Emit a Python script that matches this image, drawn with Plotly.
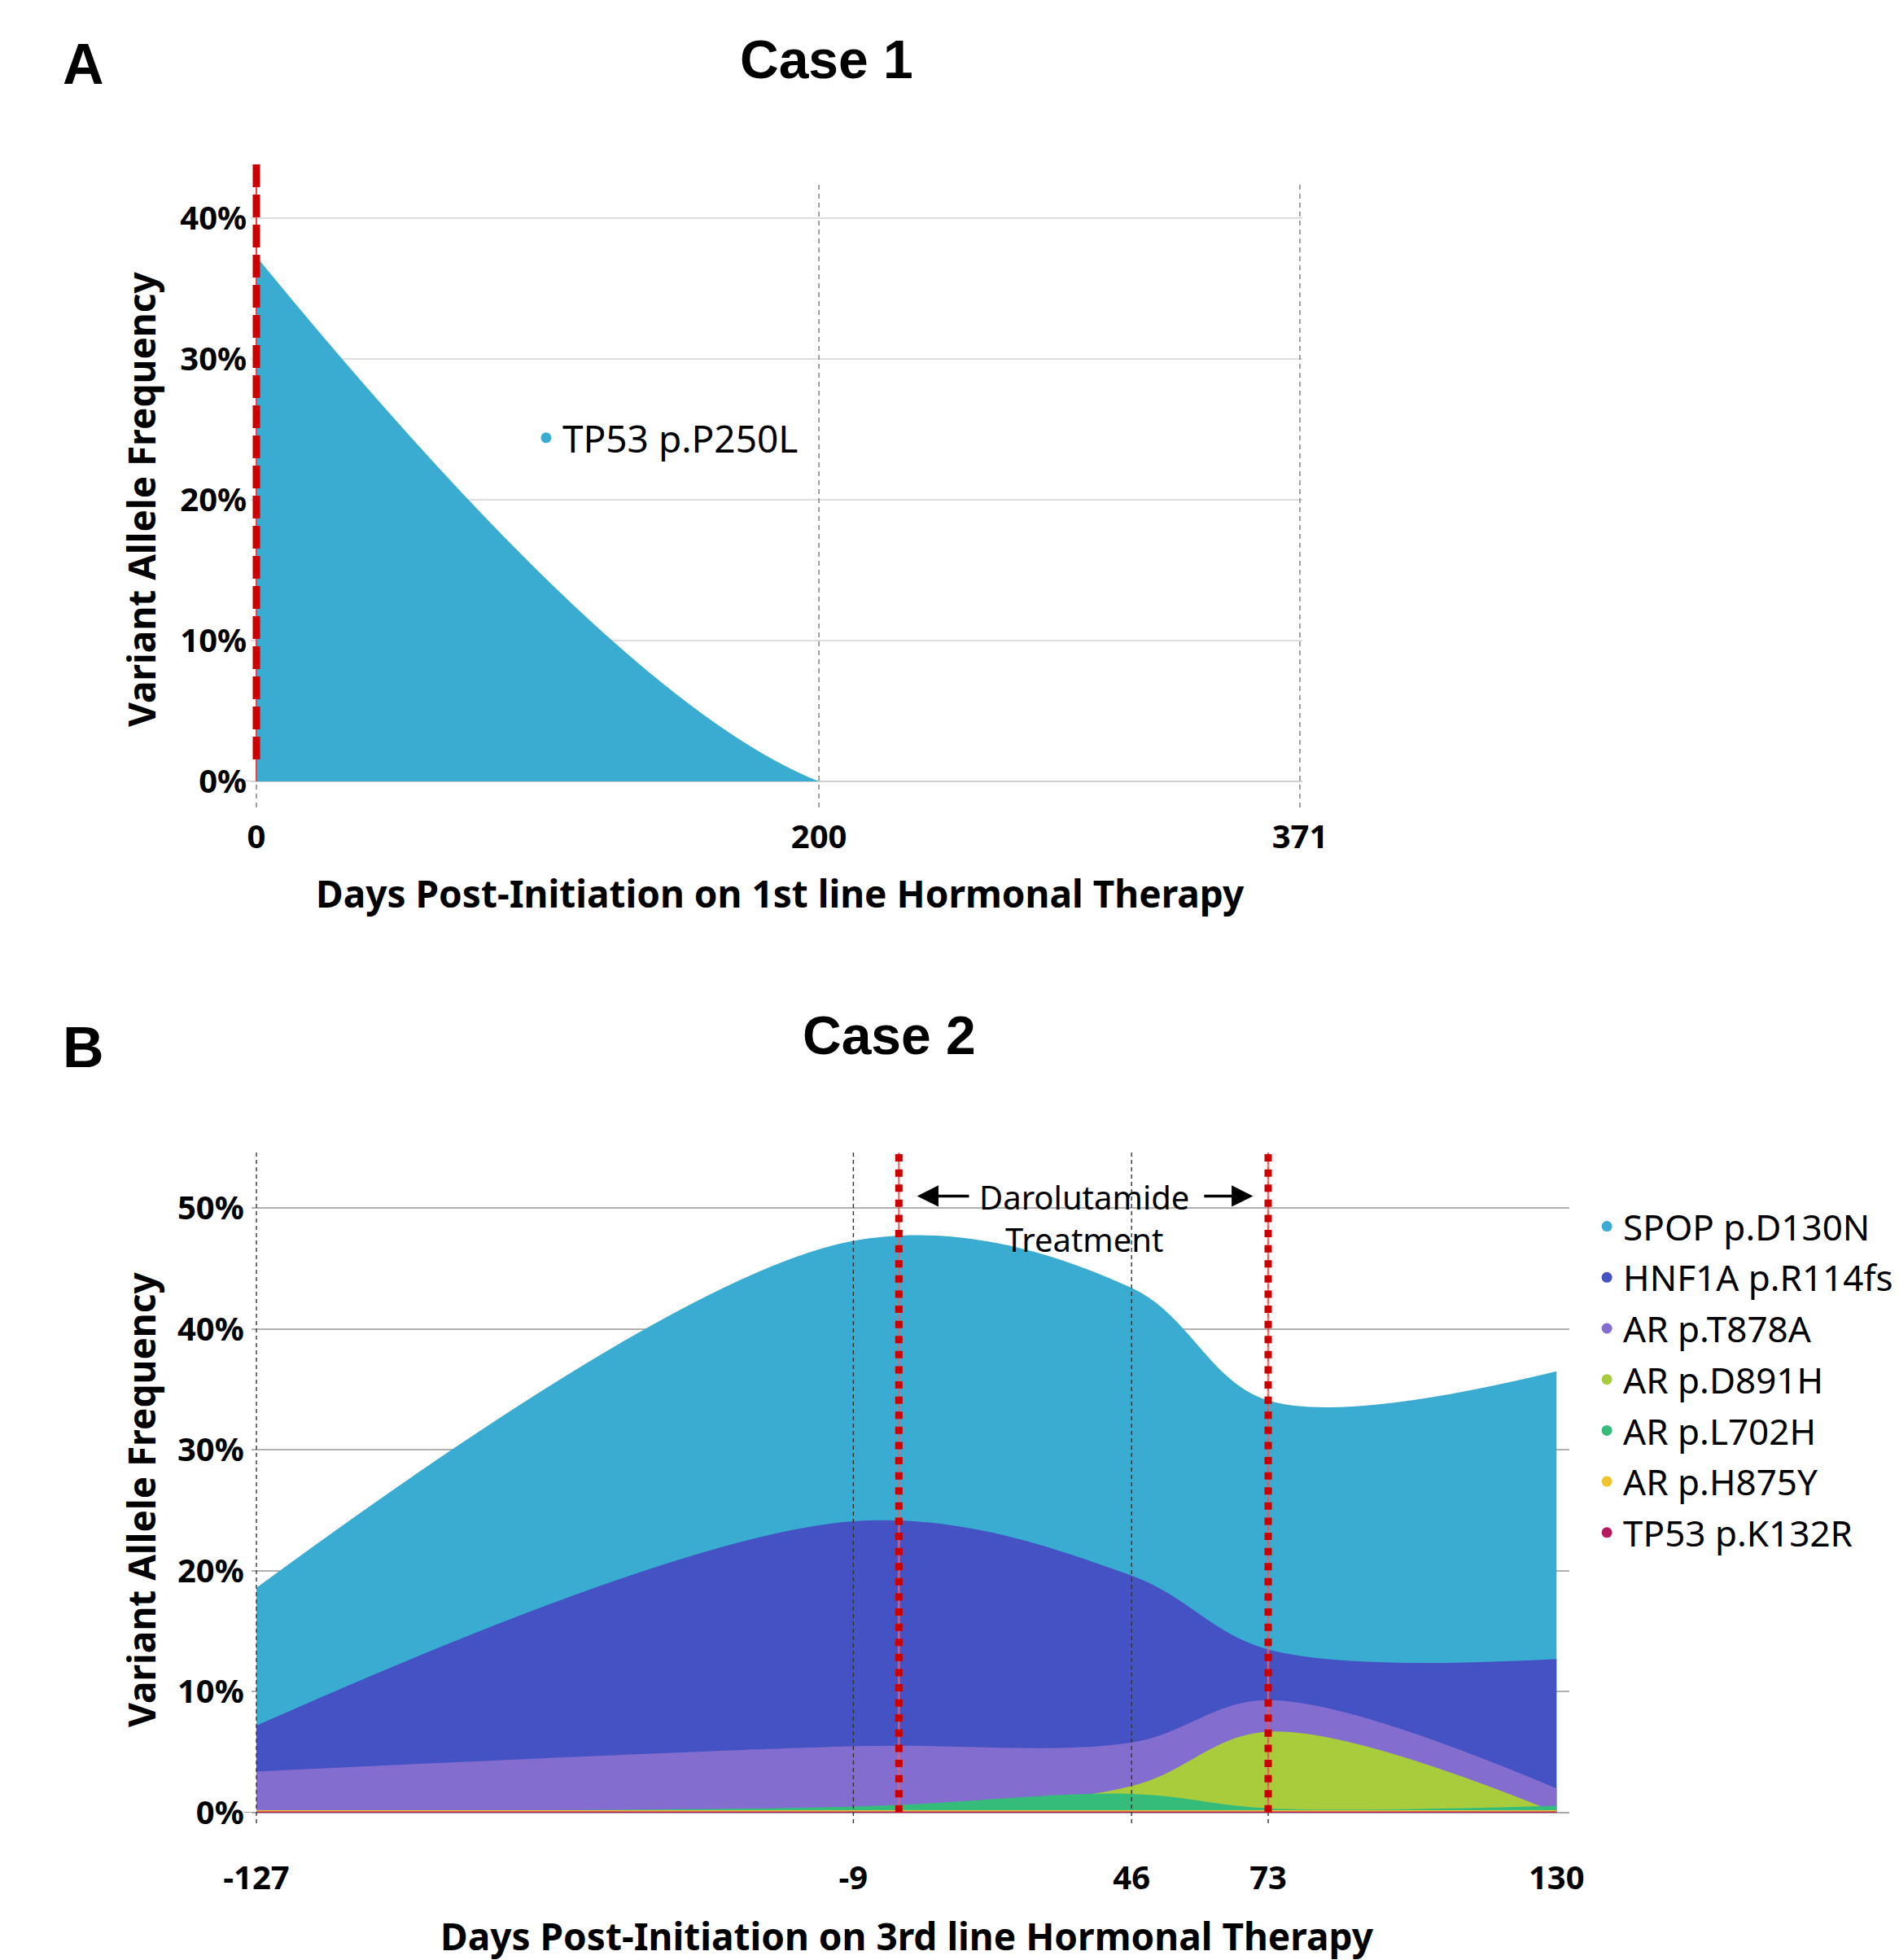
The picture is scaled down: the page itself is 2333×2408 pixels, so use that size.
import plotly.graph_objects as go

# ---------------- Case 1 data ----------------
case1_days = [0, 200, 371]
case1_tp53_p250l = [37.3, 0.0, 0.0]
case1_xticks = [0, 200, 371]
case1_yticks = [0, 10, 20, 30, 40]
case1_yticktext = ["0%", "10%", "20%", "30%", "40%"]
case1_therapy_start = [0]
case1_series_name = "TP53 p.P250L"

# ---------------- Case 2 data ----------------
case2_days = [-127, -9, 46, 73, 130]
case2_xticks = [-127, -9, 46, 73, 130]
case2_xticktext = ["-127", "-9", "46", "73", "130"]
case2_grid_days = [-127, -9, 46, 73]
case2_yticks = [0, 10, 20, 30, 40, 50]
case2_yticktext = ["0%", "10%", "20%", "30%", "40%", "50%"]
case2_treatment_days = [0, 73]

spop_d130n = [18.6, 47.3, 43.4, 34.1, 36.5]
hnf1a_r114fs = [7.2, 24.1, 19.6, 13.5, 12.7]
ar_t878a = [3.4, 5.5, 5.8, 9.3, 2.0]
ar_d891h = [0.0, 0.0, 2.2, 6.7, 0.0]
ar_l702h = [0.15, 0.5, 1.55, 0.36, 0.58]
ar_h875y = [0.2, 0.2, 0.2, 0.2, 0.2]
tp53_k132r = [0.1, 0.1, 0.1, 0.1, 0.1]

case2_names = ["SPOP p.D130N", "HNF1A p.R114fs", "AR p.T878A", "AR p.D891H",
               "AR p.L702H", "AR p.H875Y", "TP53 p.K132R"]
case2_values = [spop_d130n, hnf1a_r114fs, ar_t878a, ar_d891h,
                ar_l702h, ar_h875y, tp53_k132r]
case2_colors = ["#3AABD1", "#4452C4", "#836DCF", "#A8CC3C",
                "#36BC7A", "#F0C330", "#B5195E"]
case1_color = "#3AABD1"

W, H = 2333, 2408
FONT = "Noto Sans"
TITLE_FONT = "Liberation Sans, Arial"

fig = go.Figure()

# Case 1 area
fig.add_trace(go.Scatter(
    x=case1_days, y=case1_tp53_p250l, mode="lines",
    line=dict(shape="spline", width=0, color=case1_color),
    fill="tozeroy", fillcolor=case1_color,
    xaxis="x", yaxis="y", showlegend=False, hoverinfo="skip"))
fig.add_trace(go.Scatter(
    x=[None], y=[None], mode="markers", name=case1_series_name,
    marker=dict(color=case1_color, size=13), xaxis="x", yaxis="y",
    legend="legend2", showlegend=True))

# Case 2 overlapping areas
for name, vals, col in zip(case2_names, case2_values, case2_colors):
    fig.add_trace(go.Scatter(
        x=case2_days, y=vals, mode="lines",
        line=dict(shape="spline", width=0, color=col),
        fill="tozeroy", fillcolor=col,
        xaxis="x2", yaxis="y2", showlegend=False, hoverinfo="skip"))
for name, col in zip(case2_names, case2_colors):
    fig.add_trace(go.Scatter(
        x=[None], y=[None], mode="markers", name=name, legendgroup=name,
        marker=dict(color=col, size=13), xaxis="x2", yaxis="y2",
        legend="legend", showlegend=True))

tickfont = dict(family=FONT, size=40, color="black", weight="bold")

fig.update_layout(
    template="plotly_white",
    width=W, height=H, autosize=False,
    margin=dict(l=0, r=0, t=0, b=0, pad=0, autoexpand=False),
    paper_bgcolor="white", plot_bgcolor="white",
    xaxis=dict(domain=[0.13206, 0.68599], range=[-2, 372], anchor="y", automargin=False,
               tickmode="array", tickvals=case1_xticks, ticktext=[str(v) for v in case1_xticks],
               showgrid=False, zeroline=False, showline=False,
               ticks="outside", ticklen=1, tickcolor="rgba(0,0,0,0)",
               ticklabelstandoff=32, tickfont=tickfont),
    yaxis=dict(domain=[0.60133, 0.90573], range=[0, 42.4], anchor="x", automargin=False,
               tickmode="array", tickvals=case1_yticks, ticktext=case1_yticktext,
               showgrid=True, gridcolor="#dedede", gridwidth=2, zeroline=True,
               zerolinecolor="#d0d0d0", zerolinewidth=2, showline=False,
               ticks="", ticklabelstandoff=4, tickfont=tickfont),
    xaxis2=dict(domain=[0.13236, 0.82632], range=[-128, 132.5], anchor="y2", automargin=False,
                tickmode="array", tickvals=case2_xticks, ticktext=case2_xticktext,
                showgrid=False, zeroline=False, showline=False,
                ticks="outside", ticklen=1, tickcolor="rgba(0,0,0,0)",
                ticklabelstandoff=44, tickfont=tickfont),
    yaxis2=dict(domain=[0.07517, 0.41196], range=[0, 54.6], anchor="x2", automargin=False,
                tickmode="array", tickvals=case2_yticks, ticktext=case2_yticktext,
                showgrid=True, gridcolor="#b0b0b0", gridwidth=2, zeroline=True,
                zerolinecolor="#a8a8a8", zerolinewidth=2, showline=False,
                ticks="", ticklabelstandoff=8, tickfont=tickfont),
    legend=dict(x=0.8376, xanchor="left", y=0.2961, yanchor="middle",
                font=dict(family=FONT, size=44, color="black"),
                bgcolor="rgba(0,0,0,0)", itemsizing="trace", traceorder="grouped",
                tracegroupgap=2.5, itemwidth=30),
    legend2=dict(x=0.279, xanchor="left", y=0.7766, yanchor="middle",
                 font=dict(family=FONT, size=46, color="black"),
                 bgcolor="rgba(0,0,0,0)", itemsizing="trace", itemwidth=30),
    showlegend=True,
)

shapes = []
# small tick marks at the 0% baseline
shapes.append(dict(type="line", xref="x domain", yref="y", x0=-0.0077, x1=0.0, y0=0, y1=0,
                   layer="below", line=dict(color="#c8c8c8", width=2)))
shapes.append(dict(type="line", xref="x2 domain", yref="y2", x0=-0.0054, x1=0.0, y0=0, y1=0,
                   layer="below", line=dict(color="#a0a0a0", width=2)))
# Case 1 vertical dashed grid lines
for d in case1_xticks:
    shapes.append(dict(type="line", xref="x", yref="y domain", x0=d, x1=d,
                       y0=1.0, y1=-0.045, layer="above",
                       line=dict(color="#8a8a8a", width=1.6, dash="6px,5px")))
# Case 1 therapy start red line
for d in case1_therapy_start:
    shapes.append(dict(type="line", xref="x", yref="y domain", x0=d, x1=d,
                       y0=1.034, y1=0.0, layer="above",
                       line=dict(color="#ff3b3b", width=2)))
    shapes.append(dict(type="line", xref="x", yref="y domain", x0=d, x1=d,
                       y0=1.034, y1=0.027, layer="above",
                       line=dict(color="#CC0000", width=9, dash="28px,9px")))
# Case 2 vertical dashed grid lines
for d in case2_grid_days:
    shapes.append(dict(type="line", xref="x2", yref="y2 domain", x0=d, x1=d,
                       y0=1.0, y1=-0.02, layer="above",
                       line=dict(color="#333333", width=1.4, dash="5px,4px")))
# Case 2 darolutamide treatment window
for d in case2_treatment_days:
    shapes.append(dict(type="line", xref="x2", yref="y2 domain", x0=d, x1=d,
                       y0=1.0, y1=0.0, layer="above",
                       line=dict(color="rgba(255,90,90,0.85)", width=2.5)))
    shapes.append(dict(type="line", xref="x2", yref="y2 domain", x0=d, x1=d,
                       y0=0.9975, y1=0.0, layer="above",
                       line=dict(color="#CC0000", width=9, dash="9px,9.6px")))
fig.update_layout(shapes=shapes)

ann = []
ann.append(dict(text="<b>A</b>", xref="paper", yref="paper", x=102 / W, y=1 - 79 / H,
                xanchor="center", yanchor="middle", showarrow=False,
                font=dict(family=TITLE_FONT, size=70, color="black")))
ann.append(dict(text="<b>Case 1</b>", xref="paper", yref="paper", x=1015 / W, y=1 - 73 / H,
                xanchor="center", yanchor="middle", showarrow=False,
                font=dict(family=TITLE_FONT, size=66, color="black")))
ann.append(dict(text="<b>B</b>", xref="paper", yref="paper", x=102 / W, y=1 - 1287 / H,
                xanchor="center", yanchor="middle", showarrow=False,
                font=dict(family=TITLE_FONT, size=70, color="black")))
ann.append(dict(text="<b>Case 2</b>", xref="paper", yref="paper", x=1092 / W, y=1 - 1272 / H,
                xanchor="center", yanchor="middle", showarrow=False,
                font=dict(family=TITLE_FONT, size=66, color="black")))
axis_title_font = dict(family=FONT, size=46, color="black", weight="bold")
ann.append(dict(text="Variant Allele Frequency", xref="paper", yref="paper",
                x=173 / W, y=1 - 614 / H, textangle=-90, xanchor="center", yanchor="middle",
                showarrow=False, font=axis_title_font))
ann.append(dict(text="Variant Allele Frequency", xref="paper", yref="paper",
                x=173 / W, y=1 - 1843 / H, textangle=-90, xanchor="center", yanchor="middle",
                showarrow=False, font=axis_title_font))
ann.append(dict(text="Days Post-Initiation on 1st line Hormonal Therapy", xref="paper",
                yref="paper", x=958 / W, y=1 - 1097 / H, xanchor="center", yanchor="middle",
                showarrow=False, font=axis_title_font))
ann.append(dict(text="Days Post-Initiation on 3rd line Hormonal Therapy", xref="paper",
                yref="paper", x=1114 / W, y=1 - 2378 / H, xanchor="center", yanchor="middle",
                showarrow=False, font=axis_title_font))
# Darolutamide treatment label
ann.append(dict(text="Darolutamide<br>Treatment", xref="x2", yref="y2", x=36.7, y=49.2,
                xanchor="center", yanchor="middle", showarrow=False,
                font=dict(family=FONT, size=40, color="black")))
ann.append(dict(text="", xref="x2", yref="y2", x=3.6, y=51.0, ax=14.1, ay=51.0,
                axref="x2", ayref="y2", showarrow=True, arrowhead=2, arrowsize=1.5,
                arrowwidth=3.5, arrowcolor="black"))
ann.append(dict(text="", xref="x2", yref="y2", x=70.0, y=51.0, ax=60.1, ay=51.0,
                axref="x2", ayref="y2", showarrow=True, arrowhead=2, arrowsize=1.5,
                arrowwidth=3.5, arrowcolor="black"))
fig.update_layout(annotations=ann)

fig.write_html(
    "out.html",
    config={"displayModeBar": False},
    post_script="document.body.style.margin='0';document.body.style.padding='0';",
)
